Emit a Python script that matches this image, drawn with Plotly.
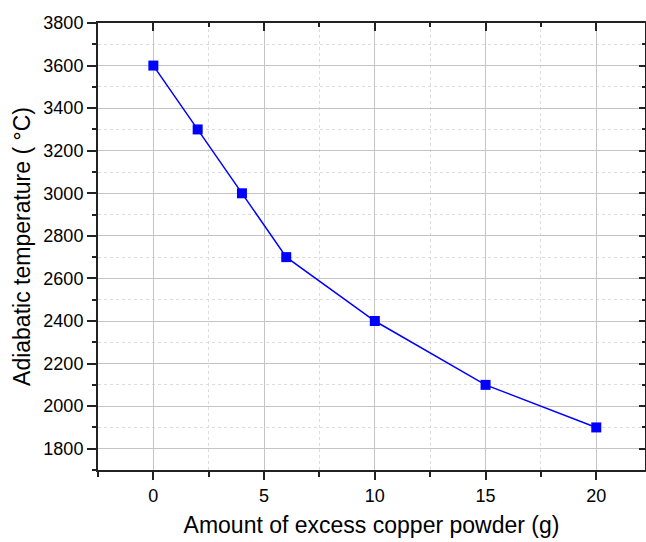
import plotly.graph_objects as go

copper_g = [0, 2, 4, 6, 10, 15, 20]
adiabatic_temp = [3600, 3300, 3000, 2700, 2400, 2100, 1900]
x_ticks = [0, 5, 10, 15, 20]
y_ticks = [1800, 2000, 2200, 2400, 2600, 2800, 3000, 3200, 3400, 3600, 3800]

blue = "#0000ff"
font = "Liberation Sans, Arial, sans-serif"
xr = [-2.5, 22.2]
yr = [1700, 3800]

fig = go.Figure()
fig.add_trace(go.Scatter(
    x=copper_g, y=adiabatic_temp, mode="lines+markers",
    line=dict(color=blue, width=1.5),
    marker=dict(symbol="square", size=10, color=blue),
    showlegend=False,
))
fig.add_trace(go.Scatter(x=[None], y=[None], xaxis="x2", yaxis="y2", showlegend=False))

common_grid = dict(showgrid=True, gridcolor="#c4c4c4", gridwidth=1)
minor_grid = dict(showgrid=True, gridcolor="#dcdcdc", griddash="dot", gridwidth=1)

fig.update_layout(
    width=646, height=542,
    margin=dict(l=98, r=1, t=23, b=72, autoexpand=False),
    paper_bgcolor="white", plot_bgcolor="white",
    font=dict(family=font, color="black", size=18),
    xaxis=dict(
        range=xr, tickvals=x_ticks, ticks="outside", ticklen=8, tickwidth=2,
        tickcolor="#222", showline=True, linecolor="#222", linewidth=2,
        tickfont=dict(size=18), zeroline=False, automargin=False, **common_grid,
        minor=dict(dtick=2.5, ticks="outside", ticklen=5, tickwidth=2, tickcolor="#222",
                   **minor_grid),
        title=dict(text="Amount of excess copper powder (g)", font=dict(size=23), standoff=12),
    ),
    yaxis=dict(
        range=yr, tickvals=y_ticks, ticks="outside", ticklen=9, tickwidth=2,
        tickcolor="#222", showline=True, linecolor="#222", linewidth=2,
        tickfont=dict(size=18), zeroline=False, automargin=False, **common_grid,
        minor=dict(dtick=100, ticks="outside", ticklen=4, tickwidth=2, tickcolor="#222",
                   **minor_grid),
        title=dict(text="Adiabatic temperature ( °C)", font=dict(size=23), standoff=6),
    ),
    xaxis2=dict(
        range=xr, tickvals=x_ticks, overlaying="x", side="top", ticks="inside",
        ticklen=8, tickwidth=2, tickcolor="#222", showline=True, linecolor="#222",
        linewidth=2, showticklabels=False, showgrid=False, zeroline=False,
        minor=dict(dtick=2.5, ticks="inside", ticklen=4, tickwidth=2, tickcolor="#222"),
    ),
    yaxis2=dict(
        range=yr, tickvals=y_ticks, overlaying="y", side="right", ticks="inside",
        ticklen=6, tickwidth=2, tickcolor="#222", showline=True, linecolor="#222",
        linewidth=2, showticklabels=False, showgrid=False, zeroline=False,
        minor=dict(dtick=100, ticks="inside", ticklen=3, tickwidth=2, tickcolor="#222"),
    ),
)

fig.write_html("out.html", config={"displayModeBar": False},
               post_script="document.body.style.margin='0';document.body.style.overflow='hidden';")
